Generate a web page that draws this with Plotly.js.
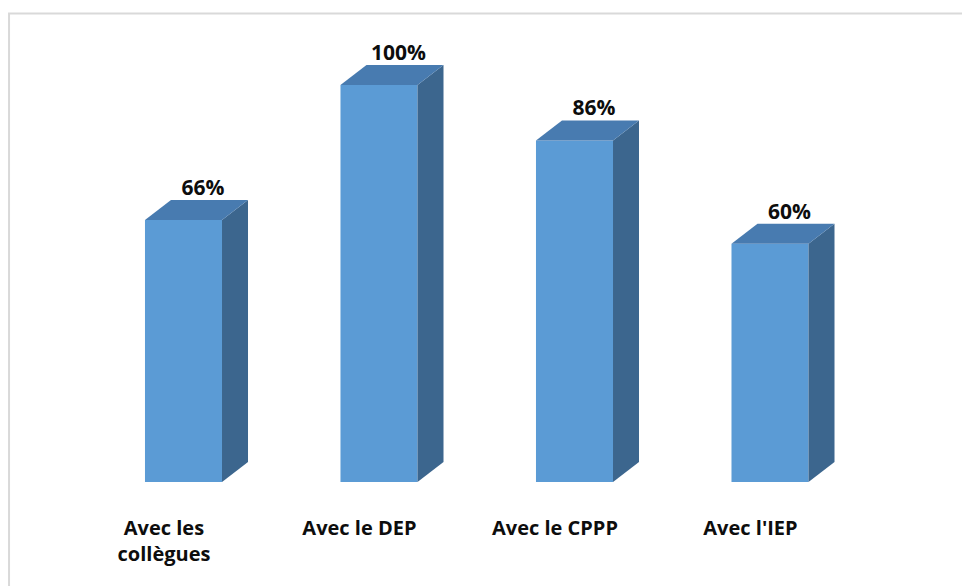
<!DOCTYPE html>
<html>
<head>
<meta charset="utf-8">
<script src="https://cdn.plot.ly/plotly-3.0.1.min.js"></script>
<style>html,body{margin:0;padding:0;background:#fff;}#chart{width:962px;height:586px;}</style>
</head>
<body>
<div id="chart"></div>
<script>
var categories = ["Avec les<br>collègues", "Avec le DEP", "Avec le CPPP", "Avec l'IEP"];
var values = [66, 100, 86, 60];
var valueLabels = ["66%", "100%", "86%", "60%"];

var W = 0.394;   // front face width (category units)
var DX = 0.133;  // depth offset x
var DY = 5.04;   // depth offset y (value units)
var FRONT = "#5b9bd5", TOP = "#487bb0", SIDE = "#3c668e";
var FONT = {family: "Open Sans, sans-serif", size: 20, color: "#0d0d0d", weight: 700};
var VFONT = {family: "Open Sans, sans-serif", size: 21, color: "#0d0d0d", weight: 700};

var idx = values.map(function(_, i){ return i; });
var traces = [];

// front faces
traces.push({type: "bar", x: idx, y: values, width: W, marker: {color: FRONT, line: {width: 0}},
  hoverinfo: "skip", showlegend: false});

// side and top faces
values.forEach(function(v, i){
  var r = i + W/2, l = i - W/2;
  traces.push({type: "scatter", mode: "lines", fill: "toself", fillcolor: SIDE, line: {width: 0, color: SIDE},
    x: [r, r + DX, r + DX, r, r], y: [0, DY, v + DY, v, 0], hoverinfo: "skip", showlegend: false});
  traces.push({type: "scatter", mode: "lines", fill: "toself", fillcolor: TOP, line: {width: 0, color: TOP},
    x: [l, r, r + DX, l + DX, l], y: [v, v, v + DY, v + DY, v], hoverinfo: "skip", showlegend: false});
});

// value labels
traces.push({type: "scatter", mode: "text", x: idx.map(function(i){ return i + 0.1; }),
  y: values.map(function(v){ return v + DY; }), text: valueLabels, textposition: "top center",
  textfont: VFONT, hoverinfo: "skip", showlegend: false, cliponaxis: false});

var layout = {
  width: 962, height: 586,
  margin: {l: 0, r: 0, t: 0, b: 104, pad: 0},
  paper_bgcolor: "#fff", plot_bgcolor: "rgba(0,0,0,0)",
  showlegend: false,
  xaxis: {range: [-0.9386, 3.9821], showgrid: false, zeroline: false, showline: false,
    tickvals: idx.map(function(i){ return i - 0.1; }), ticktext: categories,
    ticks: "outside", ticklen: 28, tickcolor: "rgba(0,0,0,0)", tickfont: FONT, fixedrange: true},
  yaxis: {range: [0, 121.4], showgrid: false, zeroline: false, showline: false, showticklabels: false, fixedrange: true},
  shapes: [{type: "rect", xref: "paper", yref: "paper", x0: 0.0094, x1: 1.02, y0: -0.25, y1: 0.972,
    line: {color: "#d9d9d9", width: 2}, fillcolor: "rgba(0,0,0,0)", layer: "below"}]
};

Plotly.newPlot("chart", traces, layout, {displayModeBar: false, staticPlot: true});
</script>
</body>
</html>
